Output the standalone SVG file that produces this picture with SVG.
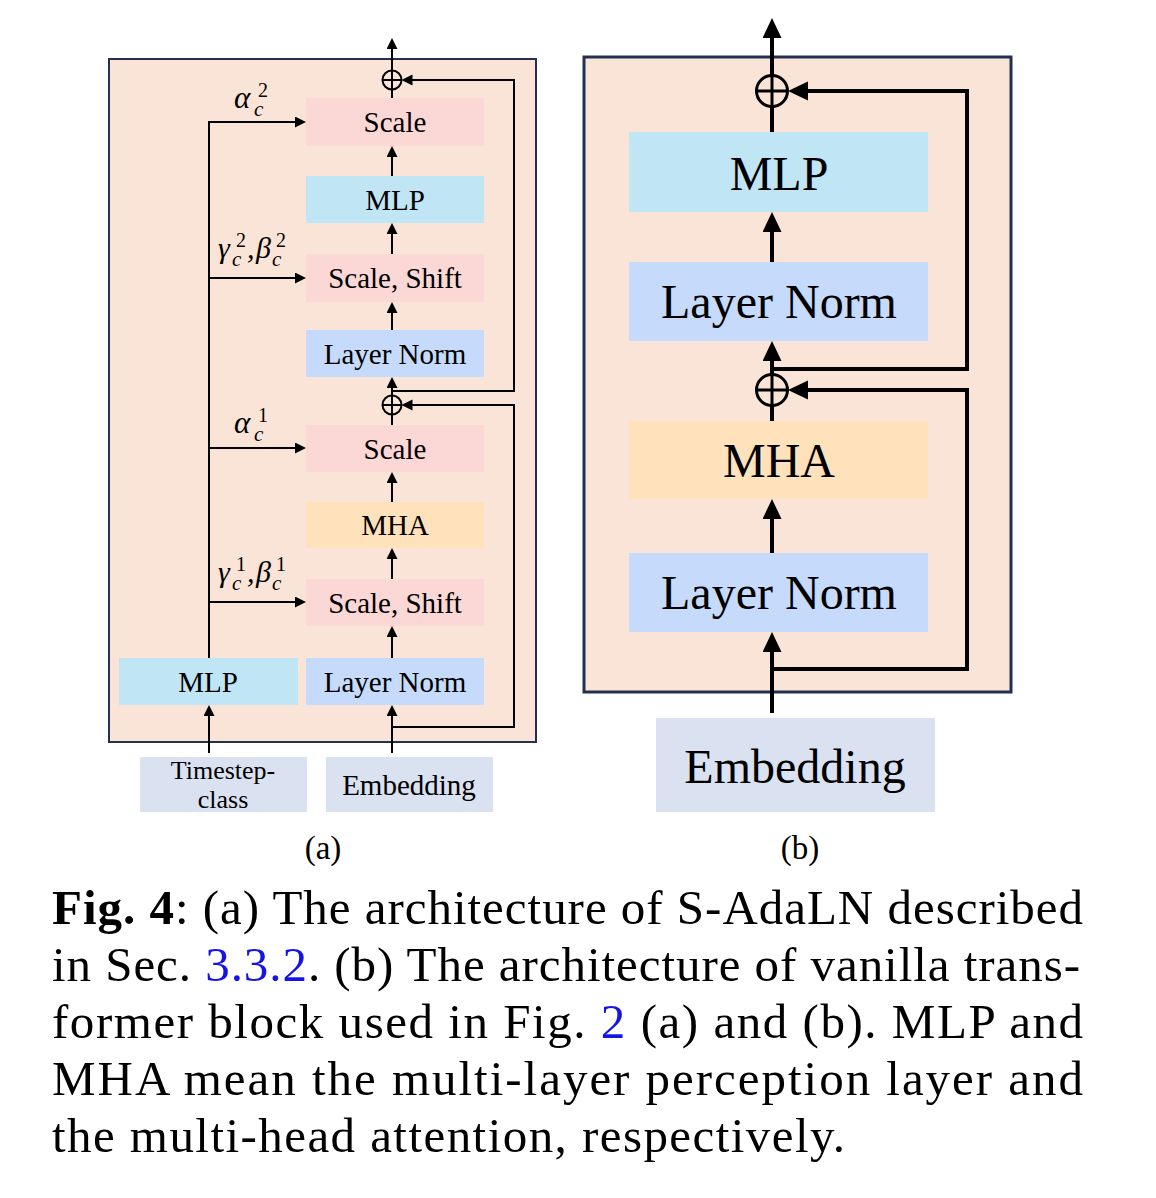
<svg xmlns="http://www.w3.org/2000/svg" width="1156" height="1198" viewBox="0 0 1156 1198">
<defs>
<style>
.t{font-family:"Liberation Serif","Times New Roman",serif;fill:#000;text-anchor:middle}
.ta{font-size:29px}
.tb{font-size:48px}
.m{font-family:"Liberation Serif","Times New Roman",serif;font-style:italic;fill:#000}
.cap{font-family:"Liberation Serif","Times New Roman",serif;font-size:49px;fill:#000}
.blue{fill:#1414e6}
.panel{fill:#f9e4d7;stroke:#24304e}
.scale{fill:#fbd7d6}
.mlp{fill:#c0e6f5}
.ln{fill:#c6dafb}
.mha{fill:#ffe1bb}
.inp{fill:#dae2f1}
.ca{fill:none;stroke:#000;stroke-width:2}
.cb{fill:none;stroke:#000;stroke-width:4}
</style>
<marker id="ha" markerUnits="userSpaceOnUse" markerWidth="12" markerHeight="12" refX="6" refY="5.5" orient="auto"><path d="M0,0 L11,5.5 L0,11 Z" fill="#000"/></marker>
<marker id="hb" markerUnits="userSpaceOnUse" markerWidth="21" markerHeight="20" refX="10" refY="9.5" orient="auto"><path d="M0,0 L20,9.5 L0,19 Z" fill="#000"/></marker>
</defs>
<rect fill="#fff" x="0" y="0" width="1156" height="1198"/>

<!-- Panel (a) -->
<rect id="panel-a" class="panel" x="109" y="59" width="427" height="683" stroke-width="2"/>
<g id="a-scale2"><rect class="scale" x="306" y="98" width="178" height="48"/><text class="t ta" x="395" y="132">Scale</text></g>
<g id="a-mlp2"><rect class="mlp" x="306" y="176" width="178" height="47"/><text class="t ta" x="395" y="210">MLP</text></g>
<g id="a-ss2"><rect class="scale" x="306" y="254" width="178" height="48"/><text class="t ta" x="395" y="288">Scale, Shift</text></g>
<g id="a-ln2"><rect class="ln" x="306" y="330" width="178" height="47"/><text class="t ta" x="395" y="364">Layer Norm</text></g>
<g id="a-scale1"><rect class="scale" x="306" y="425" width="178" height="47"/><text class="t ta" x="395" y="459">Scale</text></g>
<g id="a-mha"><rect class="mha" x="306" y="502" width="178" height="46"/><text class="t ta" x="395" y="535">MHA</text></g>
<g id="a-ss1"><rect class="scale" x="306" y="579" width="178" height="47"/><text class="t ta" x="395" y="613">Scale, Shift</text></g>
<g id="a-ln1"><rect class="ln" x="306" y="658" width="178" height="47"/><text class="t ta" x="395" y="692">Layer Norm</text></g>
<g id="a-mlp-cond"><rect class="mlp" x="119" y="658" width="179" height="47"/><text class="t ta" x="208" y="692">MLP</text></g>
<g id="a-timestep"><rect class="inp" x="140" y="757" width="167" height="55"/><text class="t" font-size="26" x="223" y="779">Timestep-</text><text class="t" font-size="26" x="223" y="808">class</text></g>
<g id="a-embedding"><rect class="inp" x="326" y="757" width="167" height="55"/><text class="t ta" x="409" y="795">Embedding</text></g>
<g id="a-add2"><circle cx="392" cy="80" r="9.5" fill="none" stroke="#000" stroke-width="2"/><path d="M382.5,80 H401.5 M392,70.5 V89.5" stroke="#000" stroke-width="2"/></g>
<g id="a-add1"><circle cx="392" cy="405" r="9.5" fill="none" stroke="#000" stroke-width="2"/><path d="M382.5,405 H401.5 M392,395.5 V414.5" stroke="#000" stroke-width="2"/></g>

<!-- math labels (a) -->
<g id="a-label-alpha2"><text class="m" font-size="31" x="234" y="108">α</text><text class="m" font-size="21" x="254" y="116">c</text><text class="t" font-size="20" x="263" y="97">2</text></g>
<g id="a-label-gb2"><text class="m" font-size="30" x="218" y="258">γ</text><text class="m" font-size="21" x="232" y="266">c</text><text class="t" font-size="20" x="241" y="247">2</text><text class="m" font-size="30" x="247" y="258">,</text><text class="m" font-size="30" x="256" y="258">β</text><text class="m" font-size="21" x="272" y="266">c</text><text class="t" font-size="20" x="281" y="247">2</text></g>
<g id="a-label-alpha1"><text class="m" font-size="31" x="234" y="433">α</text><text class="m" font-size="21" x="254" y="441">c</text><text class="t" font-size="20" x="263" y="422">1</text></g>
<g id="a-label-gb1"><text class="m" font-size="30" x="218" y="582">γ</text><text class="m" font-size="21" x="232" y="590">c</text><text class="t" font-size="20" x="241" y="571">1</text><text class="m" font-size="30" x="247" y="582">,</text><text class="m" font-size="30" x="256" y="582">β</text><text class="m" font-size="21" x="272" y="590">c</text><text class="t" font-size="20" x="281" y="571">1</text></g>

<!-- Panel (b) -->
<rect id="panel-b" class="panel" x="584" y="57" width="427" height="635" stroke-width="3"/>
<g id="b-mlp"><rect class="mlp" x="629" y="132" width="299" height="80"/><text class="t tb" x="779" y="190">MLP</text></g>
<g id="b-ln2"><rect class="ln" x="629" y="262" width="299" height="79"/><text class="t tb" x="779" y="318">Layer Norm</text></g>
<g id="b-mha"><rect class="mha" x="629" y="421" width="299" height="78"/><text class="t tb" x="779" y="477">MHA</text></g>
<g id="b-ln1"><rect class="ln" x="629" y="553" width="299" height="79"/><text class="t tb" x="779" y="609">Layer Norm</text></g>
<g id="b-embedding"><rect class="inp" x="656" y="718" width="279" height="94"/><text class="t tb" x="795" y="783">Embedding</text></g>
<g id="b-add2"><circle cx="772" cy="91" r="15.5" fill="none" stroke="#000" stroke-width="3"/><path d="M756.5,91 H787.5 M772,75.5 V106.5" stroke="#000" stroke-width="3"/></g>
<g id="b-add1"><circle cx="772" cy="390" r="15.5" fill="none" stroke="#000" stroke-width="3"/><path d="M756.5,390 H787.5 M772,374.5 V405.5" stroke="#000" stroke-width="3"/></g>

<!-- connectors -->
<g id="connectors">
<path class="ca" d="M392,753 V710" marker-end="url(#ha)"/>
<path class="ca" d="M392,658 V631" marker-end="url(#ha)"/>
<path class="ca" d="M392,579 V553" marker-end="url(#ha)"/>
<path class="ca" d="M392,502 V477" marker-end="url(#ha)"/>
<path class="ca" d="M392,425 V414.5"/>
<path class="ca" d="M392,395.5 V382" marker-end="url(#ha)"/>
<path class="ca" d="M392,330 V307" marker-end="url(#ha)"/>
<path class="ca" d="M392,254 V228" marker-end="url(#ha)"/>
<path class="ca" d="M392,176 V151" marker-end="url(#ha)"/>
<path class="ca" d="M392,98 V89.5"/>
<path class="ca" d="M392,70.5 V43" marker-end="url(#ha)"/>
<path class="ca" d="M392,727 H514 V405 H406.5" marker-end="url(#ha)"/>
<path class="ca" d="M392,391 H514 V80 H406.5" marker-end="url(#ha)"/>
<path class="ca" d="M209,753 V710" marker-end="url(#ha)"/>
<path class="ca" d="M209,658 V122 H301" marker-end="url(#ha)"/>
<path class="ca" d="M209,278 H301" marker-end="url(#ha)"/>
<path class="ca" d="M209,448 H301" marker-end="url(#ha)"/>
<path class="ca" d="M209,602 H301" marker-end="url(#ha)"/>

<path class="cb" d="M772,713 V642" marker-end="url(#hb)"/>
<path class="cb" d="M772,669 H967 V390 H798" marker-end="url(#hb)"/>
<path class="cb" d="M772,553 V509" marker-end="url(#hb)"/>
<path class="cb" d="M772,421 V405.5"/>
<path class="cb" d="M772,374.5 V351" marker-end="url(#hb)"/>
<path class="cb" d="M772,369 H967 V91 H798" marker-end="url(#hb)"/>
<path class="cb" d="M772,262 V222" marker-end="url(#hb)"/>
<path class="cb" d="M772,132 V106.5"/>
<path class="cb" d="M772,75.5 V28" marker-end="url(#hb)"/>
</g>

<!-- sub-captions -->
<text class="t" font-size="33" x="323" y="859">(a)</text>
<text class="t" font-size="33" x="800" y="859">(b)</text>

<!-- caption -->
<text class="cap" x="52" y="924" textLength="1031" lengthAdjust="spacing"><tspan font-weight="bold">Fig. 4</tspan>: (a) The architecture of S-AdaLN described</text>
<text class="cap" x="52" y="981" textLength="1028" lengthAdjust="spacing">in Sec. <tspan class="blue">3.3.2</tspan>. (b) The architecture of vanilla trans-</text>
<text class="cap" x="52" y="1038" textLength="1031" lengthAdjust="spacing">former block used in Fig. <tspan class="blue">2</tspan> (a) and (b). MLP and</text>
<text class="cap" x="52" y="1095" textLength="1031" lengthAdjust="spacing">MHA mean the multi-layer perception layer and</text>
<text class="cap" x="52" y="1152" textLength="793" lengthAdjust="spacing">the multi-head attention, respectively.</text>
</svg>
